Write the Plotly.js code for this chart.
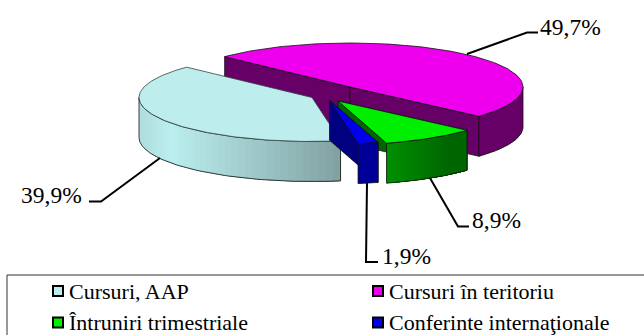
<!DOCTYPE html>
<html><head><meta charset="utf-8">
<script src="https://cdn.plot.ly/plotly-3.0.1.min.js"></script>
<style>html,body{margin:0;padding:0;background:#fff}#c{width:644px;height:335px}</style>
</head><body><div id="c"></div>
<script>
// ---- data ----
const categories = ['Cursuri, AAP', 'Cursuri în teritoriu', 'Întruniri trimestriale', 'Conferinte internaţionale'];
const shares = [39.9, 49.7, 8.9, 1.9];
const topColors = ['#BDEDED', '#EE00EE', '#00EE00', '#0000EE'];
const cutColors = [null, '#660066', '#006600', '#000080'];
const wallFrom = ['#B0DCDC', '#660066', '#009000', '#000099'];
const wallMid  = ['#BBEEEE', '#660066', '#006600', '#000099'];
const wallTo   = ['#7F9F9F', '#660066', '#006600', '#000099'];
const wallBreak = [0.15, 0.15, 0.75, 0.15];

// ---- projection of the 3D pie ----
const RX = 173, RY = 44, DEPTH = 40, FIRST_ANGLE = 170.5;
const apexes = [[312, 97.5], [350, 87], [338, 101], [329.5, 100.2]];
const drawOrder = [1, 0, 2, 3];
const total = shares.reduce((a, b) => a + b, 0);
const INK = '#111111';

const rad = d => d * Math.PI / 180;
const spans = []; let a0 = FIRST_ANGLE;
shares.forEach(s => { const a1 = a0 + 360 * s / total; spans.push([a0, a1]); a0 = a1; });
const pt = (i, th, dy = 0) => [apexes[i][0] + RX * Math.sin(rad(th)), apexes[i][1] - RY * Math.cos(rad(th)) + dy];
const hex = c => [1, 3, 5].map(k => parseInt(c.substr(k, 2), 16));
const mix = (a, b, t) => { const A = hex(a), B = hex(b); return 'rgb(' + A.map((v, k) => Math.round(v + (B[k] - v) * t)).join(',') + ')'; };
const traces = [];
const poly = (pts, fill, line, w) => traces.push({
  type: 'scatter', mode: w === 0 ? 'none' : 'lines', x: pts.map(p => p[0]), y: pts.map(p => p[1]),
  fill: fill ? 'toself' : 'none', fillcolor: fill || undefined,
  line: { color: line || fill, width: w === undefined ? 0.5 : w },
  hoverinfo: 'skip', showlegend: false });
const arc = (i, a, b, dy, n = 60) => { const r = []; for (let k = 0; k <= n; k++) r.push(pt(i, a + (b - a) * k / n, dy)); return r; };

drawOrder.forEach(i => {
  const [s, e] = spans[i];
  // cut faces
  if (i === 1) {
    const A = pt(i, s), B = pt(i, e), C = apexes[i];
    [[A, C], [C, B]].forEach(([p, q]) => {
      poly([p, q, [q[0], q[1] + DEPTH], [p[0], p[1] + DEPTH], p], cutColors[i], INK, 0.8);
    });
  }
  if (i === 2 || i === 3) {
    const P = pt(i, s), C = apexes[i];
    poly([C, P, [P[0], P[1] + DEPTH], [C[0], C[1] + DEPTH], C], cutColors[i], INK, 0.8);
  }
  // visible outer wall: the front half of the ring (90..270 deg, clockwise from north)
  const intervals = [];
  for (const off of [0, 360, -360]) {
    const lo = Math.max(s + off, 90), hi = Math.min(e + off, 270);
    if (hi > lo) intervals.push([lo, hi]);
  }
  intervals.forEach(([lo, hi]) => {
    const xa = pt(i, lo)[0], xb = pt(i, hi)[0];
    const xMin = Math.min(xa, xb), xMax = Math.max(xa, xb);
    const brk = wallBreak[i];
    const colorAt = u => u < brk ? mix(wallFrom[i], wallMid[i], u / brk) : mix(wallMid[i], wallTo[i], (u - brk) / (1 - brk));
    const outerTop = arc(i, lo, hi, 0), outerBot = arc(i, hi, lo, DEPTH);
    // base band, then strips painted left to right, each one overlapping the next
    poly(outerTop.concat(outerBot, [outerTop[0]]), colorAt(0.5), null, 0);
    if (wallFrom[i] !== wallTo[i]) {
      const strips = 40;
      // walk from the far-left end of the band toward the right so overlap hides seams
      for (let k = 0; k < strips; k++) {
        const t0 = hi - (hi - lo) * k / strips, tEnd = lo;
        const xc = pt(i, t0)[0];
        const u = (xc - xMin) / (xMax - xMin);
        const top = arc(i, t0, tEnd, 0, 16), bot = arc(i, tEnd, t0, DEPTH, 16);
        poly(top.concat(bot, [top[0]]), colorAt(u), null, 0);
      }
    }
    poly(outerTop.concat(outerBot, [outerTop[0]]), null, INK, 0.8);
  });
  // top face
  const rim = arc(i, s, e, 0, 120);
  poly([apexes[i]].concat(rim, [apexes[i]]), topColors[i], i === 0 ? '#334444' : INK, 0.8);
});

// ---- leader lines ----
const leaders = [
  { x: [89, 101, 160], y: [201.5, 201.5, 158] },
  { x: [467, 527, 538], y: [54, 32.5, 32.5] },
  { x: [430, 458, 469], y: [178, 226.5, 226.5] },
  { x: [367, 366, 378], y: [183, 262, 262] }
];
leaders.forEach(l => traces.push({ type: 'scatter', mode: 'lines', x: l.x, y: l.y, line: { color: '#000', width: 2 }, hoverinfo: 'skip', showlegend: false }));

// ---- labels ----
const FONT = 'Liberation Serif';
const pct = v => v.toFixed(1).replace('.', ',') + '%';
const labelPos = [[84, 195], [603, 27], [523, 220], [433, 256]];
const annotations = shares.map((v, i) => ({
  x: labelPos[i][0], y: labelPos[i][1], xref: 'x', yref: 'y', text: pct(v), showarrow: false,
  xanchor: 'right', yanchor: 'middle', font: { family: FONT, size: 23.5, color: '#000' } }));

// ---- legend ----
const legendPos = [[58, 291], [378, 291], [58, 322.5], [378, 322.5]];
const shapes = [{ type: 'rect', xref: 'x', yref: 'y', x0: 7, x1: 650, y0: 275, y1: 340, line: { color: '#333', width: 1 }, fillcolor: '#fff', layer: 'below' }];
categories.forEach((c, i) => {
  const [x, y] = legendPos[i];
  annotations.push({ x: x + 9, y: y, xref: 'x', yref: 'y', text: c, showarrow: false, xanchor: 'left', yanchor: 'middle',
    font: { family: FONT, size: 22, color: '#000' } });
  shapes.push({ type: 'rect', xref: 'x', yref: 'y', x0: x - 5, x1: x + 5, y0: y - 5, y1: y + 5, fillcolor: topColors[i], line: { color: '#000', width: 2 } });
});

Plotly.newPlot('c', traces, {
  width: 644, height: 335, margin: { l: 0, r: 0, t: 0, b: 0 },
  paper_bgcolor: '#fff', plot_bgcolor: '#fff', showlegend: false,
  xaxis: { range: [0, 644], visible: false, fixedrange: true },
  yaxis: { range: [335, 0], visible: false, fixedrange: true },
  annotations, shapes
}, { displayModeBar: false, staticPlot: true });
</script></body></html>
